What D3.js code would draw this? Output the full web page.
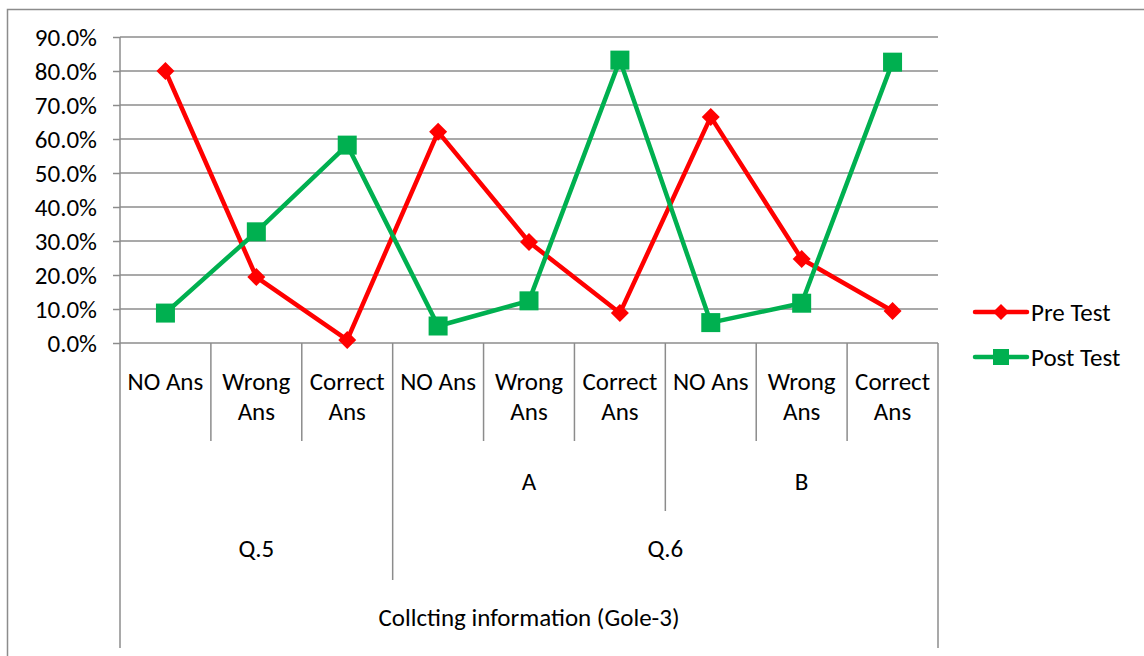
<!DOCTYPE html>
<html>
<head>
<meta charset="utf-8">
<script src="https://cdn.jsdelivr.net/npm/d3@7"></script>
<style>
  html, body { margin: 0; padding: 0; background: #fff; }
  svg { display: block; }
  text { font-family: Carlito, Lato, "Open Sans", sans-serif; fill: #000; }
</style>
</head>
<body>
<svg id="chart" width="1144" height="656"></svg>
<script>
// ---- data ----
const categories = ["NO Ans", "Wrong\nAns", "Correct\nAns", "NO Ans", "Wrong\nAns", "Correct\nAns", "NO Ans", "Wrong\nAns", "Correct\nAns"];
const preTest  = [0.800, 0.194, 0.009, 0.621, 0.297, 0.088, 0.665, 0.247, 0.094];
const postTest = [0.088, 0.327, 0.582, 0.050, 0.124, 0.832, 0.060, 0.117, 0.826];
const subGroups = [{label: "", start: 0, end: 3}, {label: "A", start: 3, end: 6}, {label: "B", start: 6, end: 9}];
const questions = [{label: "Q.5", start: 0, end: 3}, {label: "Q.6", start: 3, end: 9}];
const axisTitle = "Collcting information (Gole-3)";
const yTicks = [0, 0.1, 0.2, 0.3, 0.4, 0.5, 0.6, 0.7, 0.8, 0.9];
const seriesNames = ["Pre Test", "Post Test"];
const seriesColors = ["#FF0000", "#00B050"];

// ---- layout ----
const svg = d3.select("#chart");
const pLeft = 120, pRight = 938, pTop = 37, pBottom = 343;
const gridColor = "#8c8c8c";
const fs = 25;

const x = d3.scaleBand().domain(d3.range(categories.length)).range([pLeft, pRight]).padding(0);
const y = d3.scaleLinear().domain([0, 0.9]).range([pBottom, pTop]);

// outer border
svg.append("rect").attr("x", 7.5).attr("y", 9.5).attr("width", 1144).attr("height", 700)
  .attr("fill", "none").attr("stroke", gridColor).attr("stroke-width", 1.5);

// gridlines
svg.append("g").selectAll("line").data(yTicks).join("line")
  .attr("x1", pLeft).attr("x2", pRight)
  .attr("y1", d => y(d)).attr("y2", d => y(d))
  .attr("stroke", gridColor).attr("stroke-width", 1.5);

// y axis
const yAxis = d3.axisLeft(y).tickValues(yTicks).tickFormat(d3.format(".1%")).tickSize(7).tickPadding(16);
const gy = svg.append("g").attr("transform", `translate(${pLeft},0)`).call(yAxis);
gy.select(".domain").attr("stroke", gridColor).attr("stroke-width", 1.5).attr("d", `M0,${pTop}V${pBottom}`);
gy.selectAll(".tick line").attr("stroke", gridColor).attr("stroke-width", 1.5);
gy.selectAll(".tick text").style("font-size", fs + "px").style("font-family", "Carlito, Lato, sans-serif").attr("fill", "#000").attr("dy", "0.34em");

// category axis separators
const bx = i => (i < categories.length ? x(i) : x(categories.length - 1) + x.bandwidth());
const sepDepth = i => {
  if (i === 0 || i === categories.length) return 648;
  if (questions.some(q => q.start === i)) return 580;
  if (subGroups.some(g => g.start === i)) return 511;
  return 441;
};
svg.append("g").selectAll("line").data(d3.range(categories.length + 1)).join("line")
  .attr("x1", i => bx(i)).attr("x2", i => bx(i))
  .attr("y1", pBottom).attr("y2", i => sepDepth(i))
  .attr("stroke", gridColor).attr("stroke-width", 1.5);

// category labels
const catG = svg.append("g");
categories.forEach((c, i) => {
  const t = catG.append("text").attr("x", x(i) + x.bandwidth() / 2).attr("y", 390)
    .attr("text-anchor", "middle").style("font-size", fs + "px");
  c.split("\n").forEach((line, k) => {
    t.append("tspan").attr("x", x(i) + x.bandwidth() / 2).attr("y", 390 + k * 30).text(line);
  });
});
const mid = g => (bx(g.start) + bx(g.end)) / 2;
svg.append("g").selectAll("text").data(subGroups.filter(g => g.label)).join("text")
  .attr("x", mid).attr("y", 490).attr("text-anchor", "middle").style("font-size", fs + "px").text(d => d.label);
svg.append("g").selectAll("text").data(questions).join("text")
  .attr("x", mid).attr("y", 557).attr("text-anchor", "middle").style("font-size", fs + "px").text(d => d.label);
svg.append("text").attr("x", (pLeft + pRight) / 2).attr("y", 626).attr("text-anchor", "middle")
  .style("font-size", fs + "px").text(axisTitle);

// series
const cx = i => x(i) + x.bandwidth() / 2;
const line = d3.line().x((d, i) => cx(i)).y(d => y(d));
const diamond = (px, py, r) => `M${px},${py - r}L${px + r},${py}L${px},${py + r}L${px - r},${py}Z`;

[preTest, postTest].forEach((data, s) => {
  svg.append("path").datum(data).attr("d", line).attr("fill", "none")
    .attr("stroke", seriesColors[s]).attr("stroke-width", 4.5).attr("stroke-linejoin", "round");
});
// pre test diamonds
svg.append("g").selectAll("path").data(preTest).join("path")
  .attr("d", (d, i) => diamond(cx(i), y(d), 9)).attr("fill", seriesColors[0]);
// post test squares
svg.append("g").selectAll("rect").data(postTest).join("rect")
  .attr("x", (d, i) => cx(i) - 9.5).attr("y", d => y(d) - 9.5)
  .attr("width", 19).attr("height", 19).attr("fill", seriesColors[1]);

// legend
const legY = [312, 357];
seriesNames.forEach((name, s) => {
  const g = svg.append("g");
  g.append("line").attr("x1", 975).attr("x2", 1027).attr("y1", legY[s]).attr("y2", legY[s])
    .attr("stroke", seriesColors[s]).attr("stroke-width", 4.5).attr("stroke-linecap", "round");
  if (s === 0) g.append("path").attr("d", diamond(1001, legY[s], 8)).attr("fill", seriesColors[s]);
  else g.append("rect").attr("x", 993).attr("y", legY[s] - 8).attr("width", 16).attr("height", 16).attr("fill", seriesColors[s]);
  g.append("text").attr("x", 1031).attr("y", legY[s] + 9).style("font-size", fs + "px").text(name);
});
</script>
</body>
</html>
